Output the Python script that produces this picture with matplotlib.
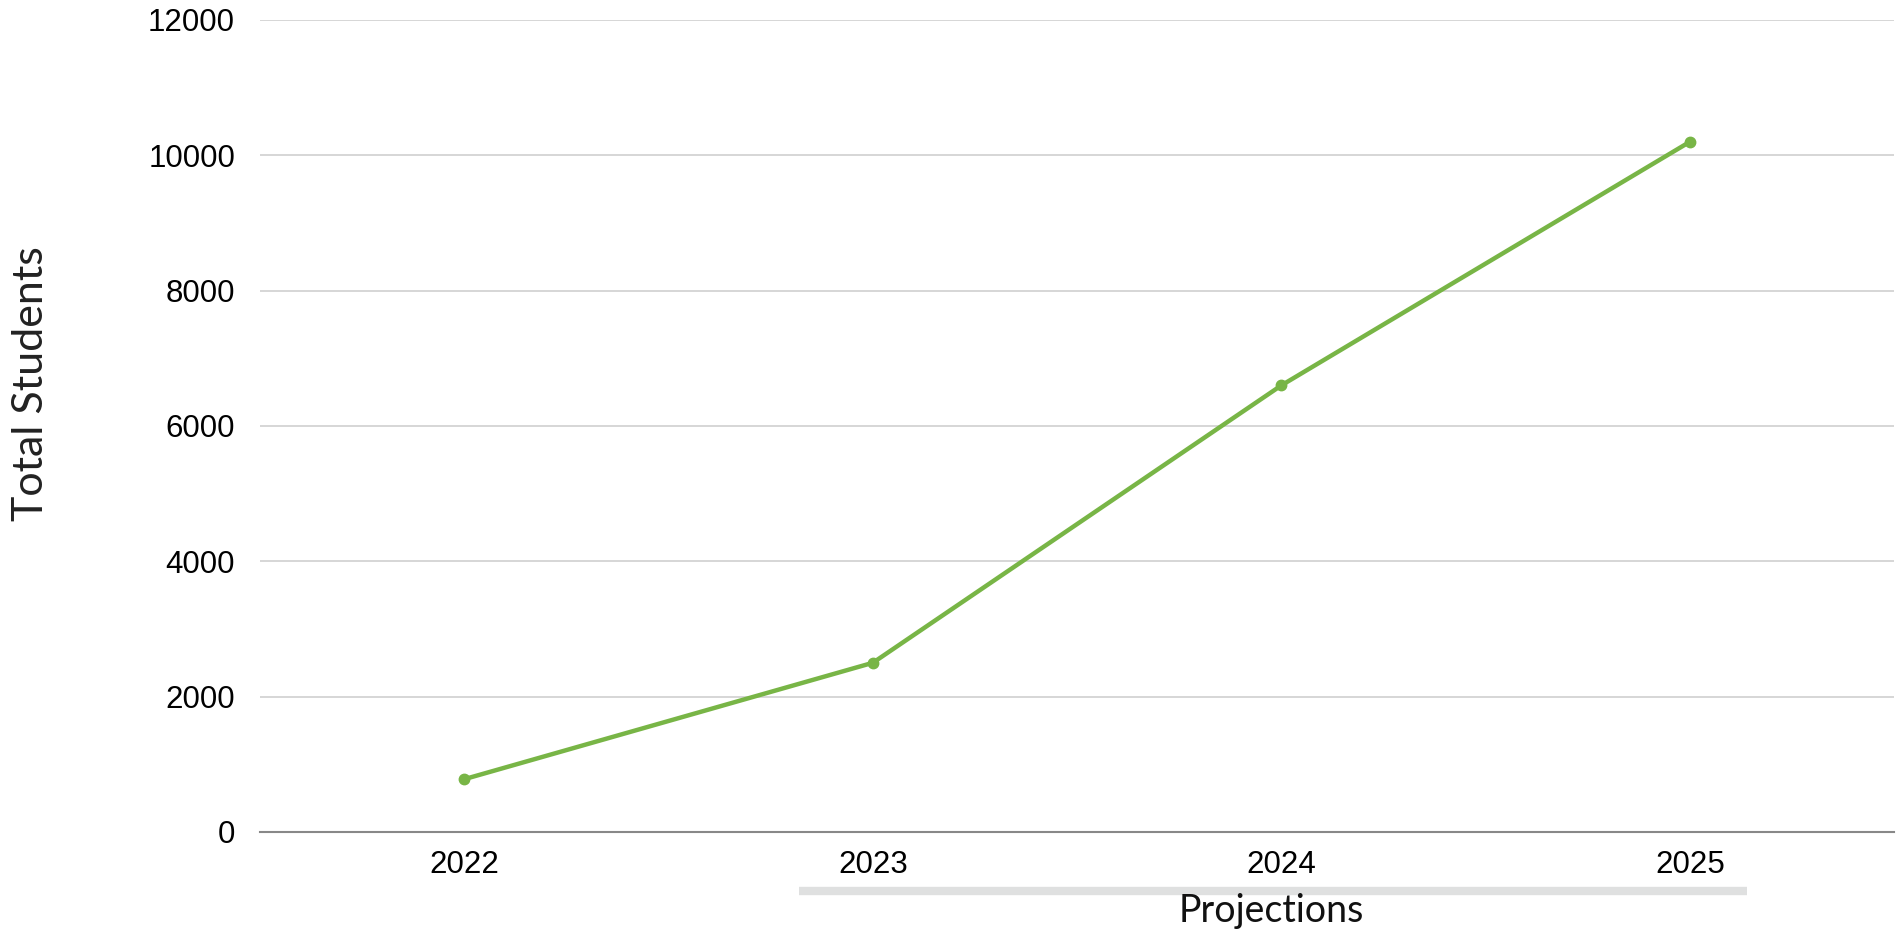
import numpy as np
from matplotlib import pyplot as plt
from matplotlib.transforms import blended_transform_factory

years = ['2022', '2023', '2024', '2025']
students = [780, 2500, 6600, 10200]
y_ticks = [0, 2000, 4000, 6000, 8000, 10000, 12000]
# span of the grey "Projections" bar, in category units
proj_span = [0.82, 3.14]

GREEN = '#78b546'

fig = plt.figure(figsize=(18.98, 9.33), dpi=100)
ax = fig.add_axes([0.137, 0.1083, 0.861, 0.8703])

x = np.arange(len(years))
ax.plot(x, students, color=GREEN, linewidth=3.2, marker='o', markersize=7.5,
        solid_capstyle='round', zorder=3)

ax.set_xlim(-0.5, len(years) - 0.5)
ax.set_ylim(0, 12000)
ax.set_xticks(x)
ax.set_xticklabels(years, fontsize=22.5, family='Liberation Sans')
ax.set_yticks(y_ticks)
ax.set_yticklabels([str(v) for v in y_ticks], fontsize=22.5, family='Liberation Sans')
ax.tick_params(axis='both', length=0)
ax.tick_params(axis='y', pad=18)
ax.tick_params(axis='x', pad=13)

ax.grid(axis='y', color='#cccccc', linewidth=1.1)
ax.set_axisbelow(True)
for s in ['top', 'right', 'left']:
    ax.spines[s].set_visible(False)
ax.spines['bottom'].set_color('#888888')
ax.spines['bottom'].set_linewidth(1.5)
ax.spines['bottom'].set_zorder(4)

fig.text(31 / 1898, 1 - 384 / 933, 'Total Students', rotation=90, ha='center',
         va='center', fontsize=31, family='Lato', color='#222222')

# grey projection bar under the x labels
trans = blended_transform_factory(ax.transData, ax.transAxes)
ax.plot(proj_span, [-0.073, -0.073], transform=trans, color='#dfe0e0',
        linewidth=6, solid_capstyle='butt', clip_on=False)
ax.text(1.975, -0.097, 'Projections', transform=trans, ha='center',
        va='center', fontsize=27, family='Lato', color='#111111')

plt.savefig('out.png', format='png', dpi=100)
